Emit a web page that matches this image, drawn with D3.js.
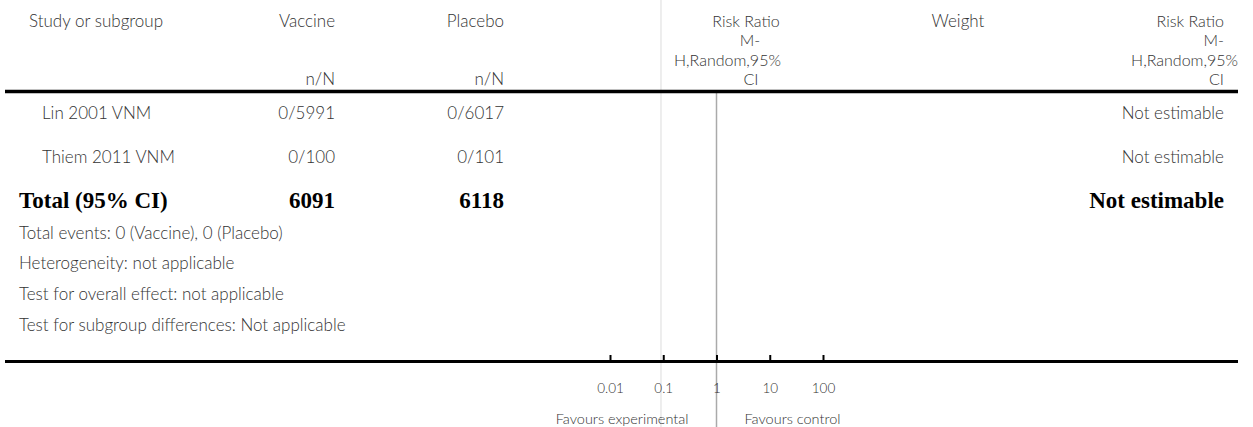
<!DOCTYPE html>
<html><head><meta charset="utf-8">
<script src="https://cdn.jsdelivr.net/npm/d3@7"></script>
<style>
html,body{margin:0;padding:0;background:#fff;}
svg{display:block;}
.t{font-family:Lato,"Open Sans",sans-serif;font-weight:300;fill:#333;}
.b{font-family:"Liberation Serif","DejaVu Serif",serif;font-weight:bold;fill:#000;}
</style></head>
<body><svg id="c" width="1253" height="427"></svg>
<script>
const studies = ["Lin 2001 VNM", "Thiem 2011 VNM"];
const vaccineEvents = [0, 0];
const vaccineTotal = [5991, 100];
const placeboEvents = [0, 0];
const placeboTotal = [6017, 101];
const studyResult = ["Not estimable", "Not estimable"];
const totalVaccine = 6091;
const totalPlacebo = 6118;
const totalResult = "Not estimable";
const footnotes = [
  "Total events: 0 (Vaccine), 0 (Placebo)",
  "Heterogeneity: not applicable",
  "Test for overall effect: not applicable",
  "Test for subgroup differences: Not applicable"
];
const effectHeader = ["Risk Ratio", "M-", "H,Random,95%", "CI"];
const tickValues = [0.01, 0.1, 1, 10, 100];
const tickLabels = ["0.01", "0.1", "1", "10", "100"];

const svg = d3.select("#c");
const fs = 17;
const hfs = 16;
const bfs = 23;

const x = d3.scaleLog().domain([0.01, 100]).range([610, 823]);

// light column divider
svg.append("line").attr("x1", 661).attr("x2", 661).attr("y1", 0).attr("y2", 427)
  .attr("stroke", "#e2e2e2").attr("stroke-width", 1.2);

// null line
svg.append("line").attr("x1", x(1)).attr("x2", x(1)).attr("y1", 92).attr("y2", 427)
  .attr("stroke", "#aaa").attr("stroke-width", 1.5);

function txt(s, xx, yy, anchor, cls, size) {
  return svg.append("text").attr("class", cls || "t").attr("x", xx).attr("y", yy)
    .attr("text-anchor", anchor || "start").attr("font-size", size || fs).text(s);
}

// headers
const hy = [27, 46.3, 65.6, 85];
txt("Study or subgroup", 29, hy[0]);
txt("Vaccine", 335, hy[0], "end");
txt("Placebo", 504, hy[0], "end");
txt("n/N", 335, hy[3], "end");
txt("n/N", 504, hy[3], "end");
txt("Weight", 958, hy[0], "middle");
// middle effect header (centred, long word overflows right)
const midX = [746, 750, 674, 751];
const midA = ["middle", "middle", "start", "middle"];
effectHeader.forEach((s, i) => txt(s, midX[i], hy[i], midA[i], "t", hfs));
// right effect header (right aligned, long word overflows right)
const rX = [1224, 1224, 1238, 1224];
effectHeader.forEach((s, i) => txt(s, rX[i], hy[i], "end", "t", hfs));

// header rule
svg.append("line").attr("x1", 5).attr("x2", 1238).attr("y1", 91.5).attr("y2", 91.5)
  .attr("stroke", "#000").attr("stroke-width", 3.5);

// study rows
const rowY = [119, 163];
studies.forEach((s, i) => {
  txt(s, 42, rowY[i]);
  txt(vaccineEvents[i] + "/" + vaccineTotal[i], 335, rowY[i], "end");
  txt(placeboEvents[i] + "/" + placeboTotal[i], 504, rowY[i], "end");
  txt(studyResult[i], 1224, rowY[i], "end");
});

// total row
txt("Total (95% CI)", 19, 208, "start", "b", bfs);
txt(String(totalVaccine), 335, 208, "end", "b", bfs);
txt(String(totalPlacebo), 504, 208, "end", "b", bfs);
txt(totalResult, 1224, 208, "end", "b", bfs);

const footY = [239, 269, 300, 331];
footnotes.forEach((f, i) => txt(f, 19, footY[i]));

// bottom rule
svg.append("line").attr("x1", 5).attr("x2", 1238).attr("y1", 361.5).attr("y2", 361.5)
  .attr("stroke", "#000").attr("stroke-width", 3);

const axis = d3.axisBottom(x).tickValues(tickValues)
  .tickFormat((d, i) => tickLabels[i]).tickSizeInner(-6).tickSizeOuter(0).tickPadding(22);
const g = svg.append("g").attr("transform", "translate(0,361)").call(axis);
g.select(".domain").remove();
g.selectAll(".tick line").attr("stroke", "#000").attr("stroke-width", 2);
g.selectAll(".tick text").attr("class", "t").attr("font-size", 13.5).attr("fill", "#333");

txt("Favours experimental", x(1) - 28, 424, "end", "t", 14.5);
txt("Favours control", x(1) + 28, 424, "start", "t", 14.5);
</script></body></html>
